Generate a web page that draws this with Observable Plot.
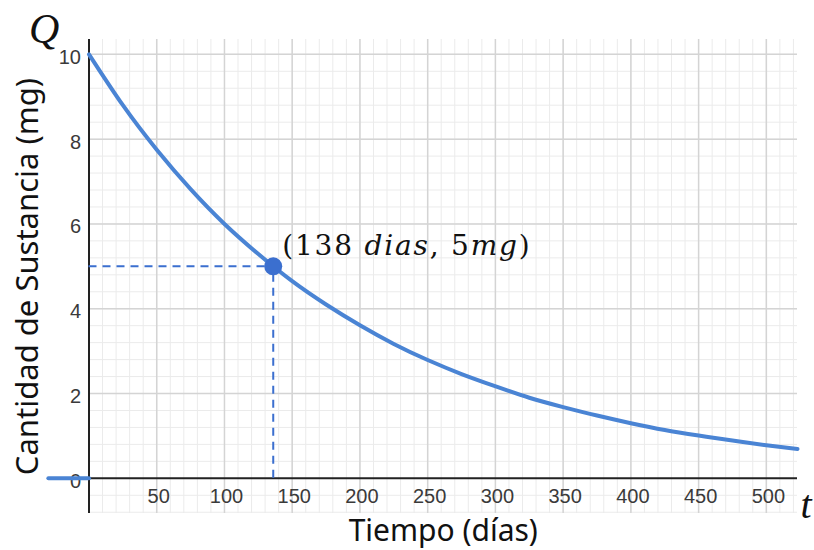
<!DOCTYPE html>
<html>
<head>
<meta charset="utf-8">
<script src="https://cdn.jsdelivr.net/npm/d3@7"></script>
<script src="https://cdn.jsdelivr.net/npm/@observablehq/plot@0.6"></script>
<style>
  html, body { margin: 0; padding: 0; background: #fff; }
  #chart svg { display: block; }
</style>
</head>
<body>
<div id="chart"></div>
<script>
// Curve: time (days) and quantity (mg)
const tiempo   = [0, 25, 50, 75, 100, 125, 150, 175, 200, 225, 250, 275, 300, 325, 350, 375, 400, 425, 450, 475, 500, 523];
const cantidad = [10, 8.80, 7.75, 6.82, 6.00, 5.29, 4.65, 4.10, 3.61, 3.17, 2.79, 2.46, 2.17, 1.90, 1.68, 1.48, 1.30, 1.14, 1.01, 0.89, 0.78, 0.69];
// Flat part left of the origin (Q = 0)
const tiempoNeg   = [-30, 0];
const cantidadNeg = [0, 0];
// Highlighted point
const puntoT = [136];
const puntoQ = [5];
const puntoLabel = "(138 dias, 5mg)";
// Ticks
const xTicks = [50, 100, 150, 200, 250, 300, 350, 400, 450, 500];
const yTicks = [0, 2, 4, 6, 8, 10];
const xMinor = d3.range(0, 530, 10);
const yMinor = d3.range(-0.8, 10.4, 0.4).map(v => +v.toFixed(2));
const xMajorGrid = [50, 100, 150, 200, 250, 300, 350, 400, 450, 500];
const yMajorGrid = [2, 4, 6, 8, 10];

const curve = tiempo.map((t, i) => ({t, q: cantidad[i]}));
const neg = tiempoNeg.map((t, i) => ({t, q: cantidadNeg[i]}));
const punto = puntoT.map((t, i) => ({t, q: puntoQ[i]}));

const blue = "#4a84d4";
const dotBlue = "#3b6fcf";

const chart = Plot.plot({
  width: 814,
  height: 550,
  marginLeft: 88.5,
  marginRight: 17,
  marginTop: 39,
  marginBottom: 37,
  style: {fontFamily: "'Liberation Sans', Arial, sans-serif", background: "#fff"},
  x: {domain: [0, 523], axis: null},
  y: {domain: [-0.83, 10.35], axis: null},
  marks: [
    Plot.gridX(xMinor, {stroke: "#ebebeb", strokeOpacity: 1, strokeWidth: 1}),
    Plot.gridY(yMinor, {stroke: "#ebebeb", strokeOpacity: 1, strokeWidth: 1}),
    Plot.gridX(xMajorGrid, {stroke: "#d4d4d4", strokeOpacity: 1, strokeWidth: 1.5}),
    Plot.gridY(yMajorGrid, {stroke: "#d4d4d4", strokeOpacity: 1, strokeWidth: 1.5}),
    Plot.ruleX([0], {stroke: "#222", strokeWidth: 2}),
    Plot.ruleY([0], {stroke: "#222", strokeWidth: 2}),
    Plot.axisX(xTicks, {anchor: "bottom", tickSize: 0, tickPadding: 0, dy: -25, dx: 2, fontSize: 20, fill: "#3a3a3a", label: null}),
    Plot.axisY(yTicks, {anchor: "left", tickSize: 0, tickPadding: 8, dy: 3, fontSize: 20, fill: "#3a3a3a", label: null}),
    // dashed guides
    Plot.ruleY(punto, {y: "q", x1: 0, x2: "t", stroke: dotBlue, strokeWidth: 2, strokeDasharray: "8,6"}),
    Plot.ruleX(punto, {x: "t", y1: 0, y2: "q", stroke: dotBlue, strokeWidth: 2, strokeDasharray: "8,6"}),
    Plot.line(neg, {x: "t", y: "q", stroke: blue, strokeWidth: 4}),
    Plot.line(curve, {x: "t", y: "q", stroke: blue, strokeWidth: 4, curve: "natural"}),
    Plot.dot(punto, {x: "t", y: "q", r: 9, fill: dotBlue, stroke: "none"}),
    Plot.text(punto, {x: "t", y: "q", text: () => puntoLabel, textAnchor: "start", dx: 9, dy: -20, fontSize: 28, fill: "#111", fontFamily: "'DejaVu Serif', serif", className: "pt-label"}),
    // axis titles
    Plot.text(["Tiempo (días)"], {frameAnchor: "bottom", dy: 27, fontSize: 30, fill: "#111", fontFamily: "'Noto Sans', sans-serif"}),
    Plot.text(["Cantidad de Sustancia (mg)"], {frameAnchor: "left", textAnchor: "middle", dx: -61, dy: 0, rotate: -90, fontSize: 31, fill: "#111", fontFamily: "'Noto Sans', sans-serif"}),
    Plot.text(["Q"], {frameAnchor: "top-left", dx: -60, dy: -26, textAnchor: "start", fontSize: 42, fontStyle: "italic", fill: "#111", fontFamily: "'Liberation Serif', 'DejaVu Serif', serif"}),
    Plot.text(["t"], {frameAnchor: "bottom-right", dx: 3, dy: 4, textAnchor: "start", fontSize: 40, fontStyle: "italic", fill: "#111", fontFamily: "'Liberation Serif', 'DejaVu Serif', serif"})
  ]
});
document.getElementById("chart").appendChild(chart);

// Mixed upright/italic styling of the annotation, as in the reference
const lbl = chart.querySelector(".pt-label text");
if (lbl) {
  const parts = [["(138 ", "normal"], ["dias", "italic"], [", 5", "normal"], ["mg", "italic"], [")", "normal"]];
  lbl.textContent = "";
  lbl.setAttribute("letter-spacing", "1.8");
  for (const [s, st] of parts) {
    const ts = document.createElementNS("http://www.w3.org/2000/svg", "tspan");
    ts.textContent = s;
    ts.setAttribute("font-style", st);
    lbl.appendChild(ts);
  }
}
</script>
</body>
</html>
